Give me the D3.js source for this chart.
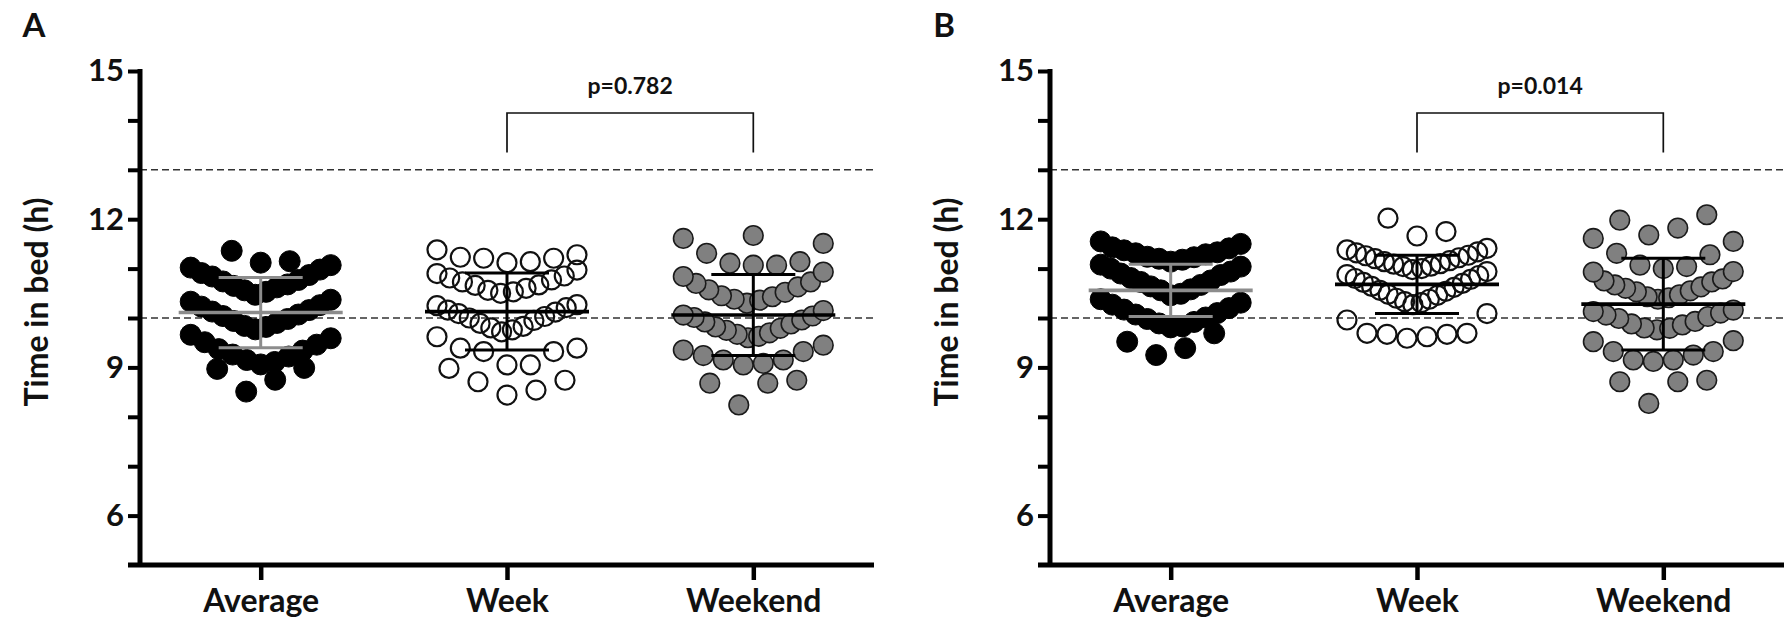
<!DOCTYPE html>
<html>
<head>
<meta charset="utf-8">
<script src="https://cdn.jsdelivr.net/npm/d3@7"></script>
<style>
  body { margin: 0; background: #fff; }
  text { font-family: Lato, "Open Sans", sans-serif; font-weight: 700; fill: #111; }
</style>
</head>
<body>
<script>
// categories, ticks and reference lines
var categories = ["Average", "Week", "Weekend"];
var yTicks = [6, 9, 12, 15];
var refLines = [13, 10];

// panel A - time in bed (h), one value per child
var averageA = [11.12, 11.15, 11.36,
  10.47, 10.53, 10.56, 10.62, 10.65, 10.68, 10.74, 10.77, 10.84, 10.87, 10.91, 10.98, 11.02, 11.07,
  9.77, 9.82, 9.84, 9.9, 9.94, 9.98, 10.04, 10.07, 10.13, 10.16, 10.23, 10.26, 10.33, 10.37,
  9.06, 9.11, 9.15, 9.22, 9.26, 9.34, 9.37, 9.46, 9.51, 9.59, 9.66,
  8.51, 8.75, 8.97, 8.99];
var weekA = [11.12, 11.14, 11.21, 11.21, 11.23, 11.28, 11.38,
  10.5, 10.53, 10.56, 10.6, 10.66, 10.67, 10.73, 10.77, 10.81, 10.85, 10.9, 10.97,
  9.72, 9.76, 9.8, 9.83, 9.89, 9.95, 10.0, 10.03, 10.09, 10.12, 10.16, 10.21, 10.25, 10.27,
  9.05, 9.05, 9.32, 9.32, 9.39, 9.39, 9.62,
  8.44, 8.54, 8.71, 8.74, 8.98];
var weekendA = [11.67,
  11.07, 11.07, 11.11, 11.14, 11.31, 11.51, 11.61,
  10.3, 10.36, 10.38, 10.43, 10.45, 10.52, 10.57, 10.63, 10.7, 10.73, 10.84, 10.93,
  9.6, 9.63, 9.67, 9.7, 9.75, 9.79, 9.82, 9.88, 9.92, 9.96, 10.01, 10.04, 10.06, 10.15,
  9.05, 9.08, 9.15, 9.15, 9.24, 9.32, 9.35, 9.45,
  8.24, 8.68, 8.68, 8.74];
var meanA = [10.11, 10.13, 10.06];
var sdA = [0.71, 0.78, 0.82];
var pA = "p=0.782";

// panel B
var averageB = [11.14, 11.18, 11.2, 11.23, 11.24, 11.29, 11.31, 11.33, 11.37, 11.41, 11.43, 11.5, 11.55,
  10.46, 10.49, 10.56, 10.58, 10.64, 10.67, 10.73, 10.76, 10.81, 10.87, 10.9, 10.94, 11.0, 11.04, 11.08,
  9.81, 9.83, 9.89, 9.92, 9.98, 10.01, 10.07, 10.1, 10.17, 10.2, 10.27, 10.31, 10.38,
  9.25, 9.39, 9.52, 9.69];
var weekB = [11.66, 11.75, 12.02,
  10.98, 11.0, 11.04, 11.05, 11.09, 11.1, 11.14, 11.16, 11.2, 11.22, 11.26, 11.27, 11.32, 11.34, 11.38, 11.41,
  10.27, 10.31, 10.33, 10.38, 10.4, 10.46, 10.48, 10.54, 10.56, 10.62, 10.64, 10.7, 10.72, 10.78, 10.8, 10.86, 10.88, 10.94,
  9.59, 9.62, 9.67, 9.67, 9.69, 9.69, 9.96, 10.09];
var weekendB = [11.68, 11.82, 11.98, 12.09,
  11.0, 11.04, 11.07, 11.28, 11.31, 11.55, 11.61,
  10.38, 10.41, 10.43, 10.47, 10.53, 10.55, 10.6, 10.63, 10.67, 10.73, 10.75, 10.79, 10.93, 10.94,
  9.76, 9.79, 9.8, 9.86, 9.88, 9.93, 9.99, 10.03, 10.06, 10.1, 10.13, 10.16,
  9.12, 9.15, 9.15, 9.25, 9.32, 9.32, 9.52, 9.54,
  8.27, 8.71, 8.71, 8.74];
var meanB = [10.56, 10.68, 10.28];
var sdB = [0.53, 0.59, 0.93];
var pB = "p=0.014";

var panels = [
  {label: "A", left: 140, groups: [averageA, weekA, weekendA], mean: meanA, sd: sdA, p: pA, binOffset: [0.6, 0.6, 0.45]},
  {label: "B", left: 1050, groups: [averageB, weekB, weekendB], mean: meanB, sd: sdB, p: pB, binOffset: [0.6, 0.45, 0.45]}
];

// marker style per category
var dotStyle = [
  {fill: "#000", stroke: "#000", width: 1, r: 10.5},
  {fill: "none", stroke: "#111", width: 2.2, r: 9.5},
  {fill: "#808080", stroke: "#1a1a1a", width: 1.6, r: 9.8}
];
var barColor = ["#8c8c8c", "#000", "#000"];

var panelWidth = 734;
var binWidth = 0.7, maxStep = 29, halfWidth = 70;

var svg = d3.select("body").append("svg")
    .attr("width", 1791)
    .attr("height", 620);

var y = d3.scaleLinear().domain([5, 15]).range([565, 71]);

// prism-like scatter: bin by value, spread each bin sideways from the centre
function swarm(values, offset) {
  var bins = d3.group(values, function(v) { return Math.floor((v - offset) / binWidth + 1e-9); });
  var out = [];
  bins.forEach(function(vs) {
    vs = vs.slice().sort(d3.ascending);
    var n = vs.length;
    var step = n > 1 ? Math.min(maxStep, 2 * halfWidth / (n - 1)) : 0;
    vs.forEach(function(v, i) {
      var k;
      if (n % 2) {
        k = i === 0 ? 0 : Math.ceil(i / 2) * (i % 2 ? 1 : -1);
      } else {
        k = (Math.floor(i / 2) + 0.5) * (i % 2 ? 1 : -1);
      }
      out.push({v: v, dx: k * step});
    });
  });
  return out;
}

panels.forEach(function(p) {
  var g = svg.append("g");
  var x = d3.scalePoint().domain(categories)
      .range([p.left, p.left + panelWidth]).padding(0.49);

  // dashed reference lines
  g.selectAll(".ref").data(refLines).enter().append("line")
      .attr("x1", p.left).attr("x2", p.left + panelWidth)
      .attr("y1", function(d) { return y(d); })
      .attr("y2", function(d) { return y(d); })
      .attr("stroke", "#333")
      .attr("stroke-width", 1.6)
      .attr("stroke-dasharray", "7,4");

  // dots
  p.groups.forEach(function(vals, gi) {
    var st = dotStyle[gi];
    var cx = x(categories[gi]);
    g.append("g").selectAll("circle")
        .data(swarm(vals, p.binOffset[gi]))
        .enter().append("circle")
        .attr("cx", function(d) { return cx + d.dx; })
        .attr("cy", function(d) { return y(d.v); })
        .attr("r", st.r)
        .attr("fill", st.fill)
        .attr("stroke", st.stroke)
        .attr("stroke-width", st.width);
  });

  // mean and SD
  categories.forEach(function(c, gi) {
    var cx = x(c), m = p.mean[gi], s = p.sd[gi];
    var col = barColor[gi];
    g.append("line")
        .attr("x1", cx - 82).attr("x2", cx + 82)
        .attr("y1", y(m)).attr("y2", y(m))
        .attr("stroke", col).attr("stroke-width", 3.6);
    [m - s, m + s].forEach(function(v) {
      g.append("line")
          .attr("x1", cx - 42).attr("x2", cx + 42)
          .attr("y1", y(v)).attr("y2", y(v))
          .attr("stroke", col).attr("stroke-width", 3);
    });
    g.append("line")
        .attr("x1", cx).attr("x2", cx)
        .attr("y1", y(m - s)).attr("y2", y(m + s))
        .attr("stroke", col).attr("stroke-width", 3);
  });

  // axes
  var yAxis = g.append("g")
      .attr("transform", "translate(" + p.left + ",0)")
      .call(d3.axisLeft(y).tickValues(d3.range(6, 16)).tickSize(12).tickSizeOuter(0).tickPadding(4)
        .tickFormat(function(d) { return yTicks.indexOf(d) >= 0 ? d : ""; }));
  yAxis.select(".domain").remove();
  yAxis.selectAll(".tick line").attr("stroke", "#000").attr("stroke-width", 4);
  yAxis.selectAll(".tick text").style("font-size", "31px").attr("fill", "#111");

  var xAxis = g.append("g")
      .attr("transform", "translate(0," + y(5) + ")")
      .call(d3.axisBottom(x).tickSize(15).tickSizeOuter(0).tickPadding(9));
  xAxis.select(".domain").remove();
  xAxis.selectAll(".tick line").attr("stroke", "#000").attr("stroke-width", 4.5);
  xAxis.selectAll(".tick text").style("font-size", "32px").attr("fill", "#111");

  g.append("line")
      .attr("x1", p.left).attr("x2", p.left)
      .attr("y1", y(15) - 2).attr("y2", y(5))
      .attr("stroke", "#000").attr("stroke-width", 5);
  g.append("line")
      .attr("x1", p.left - 12).attr("x2", p.left + panelWidth)
      .attr("y1", y(5)).attr("y2", y(5))
      .attr("stroke", "#000").attr("stroke-width", 5);

  // axis title and panel letter
  g.append("text")
      .attr("transform", "translate(" + (p.left - 92) + ",302) rotate(-90)")
      .attr("text-anchor", "middle")
      .style("font-size", "32px")
      .text("Time in bed (h)");
  g.append("text")
      .attr("x", p.left - 106).attr("y", 37)
      .attr("text-anchor", "middle")
      .style("font-size", "33px")
      .text(p.label);

  // comparison bracket week vs weekend
  var xa = x("Week"), xb = x("Weekend");
  g.append("path")
      .attr("d", "M" + xa + "," + y(13.35) + "V" + y(14.15) + "H" + xb + "V" + y(13.35))
      .attr("fill", "none")
      .attr("stroke", "#111")
      .attr("stroke-width", 1.7);
  g.append("text")
      .attr("x", (xa + xb) / 2).attr("y", y(14.53))
      .attr("text-anchor", "middle")
      .style("font-size", "23px")
      .text(p.p);
});
</script>
</body>
</html>
